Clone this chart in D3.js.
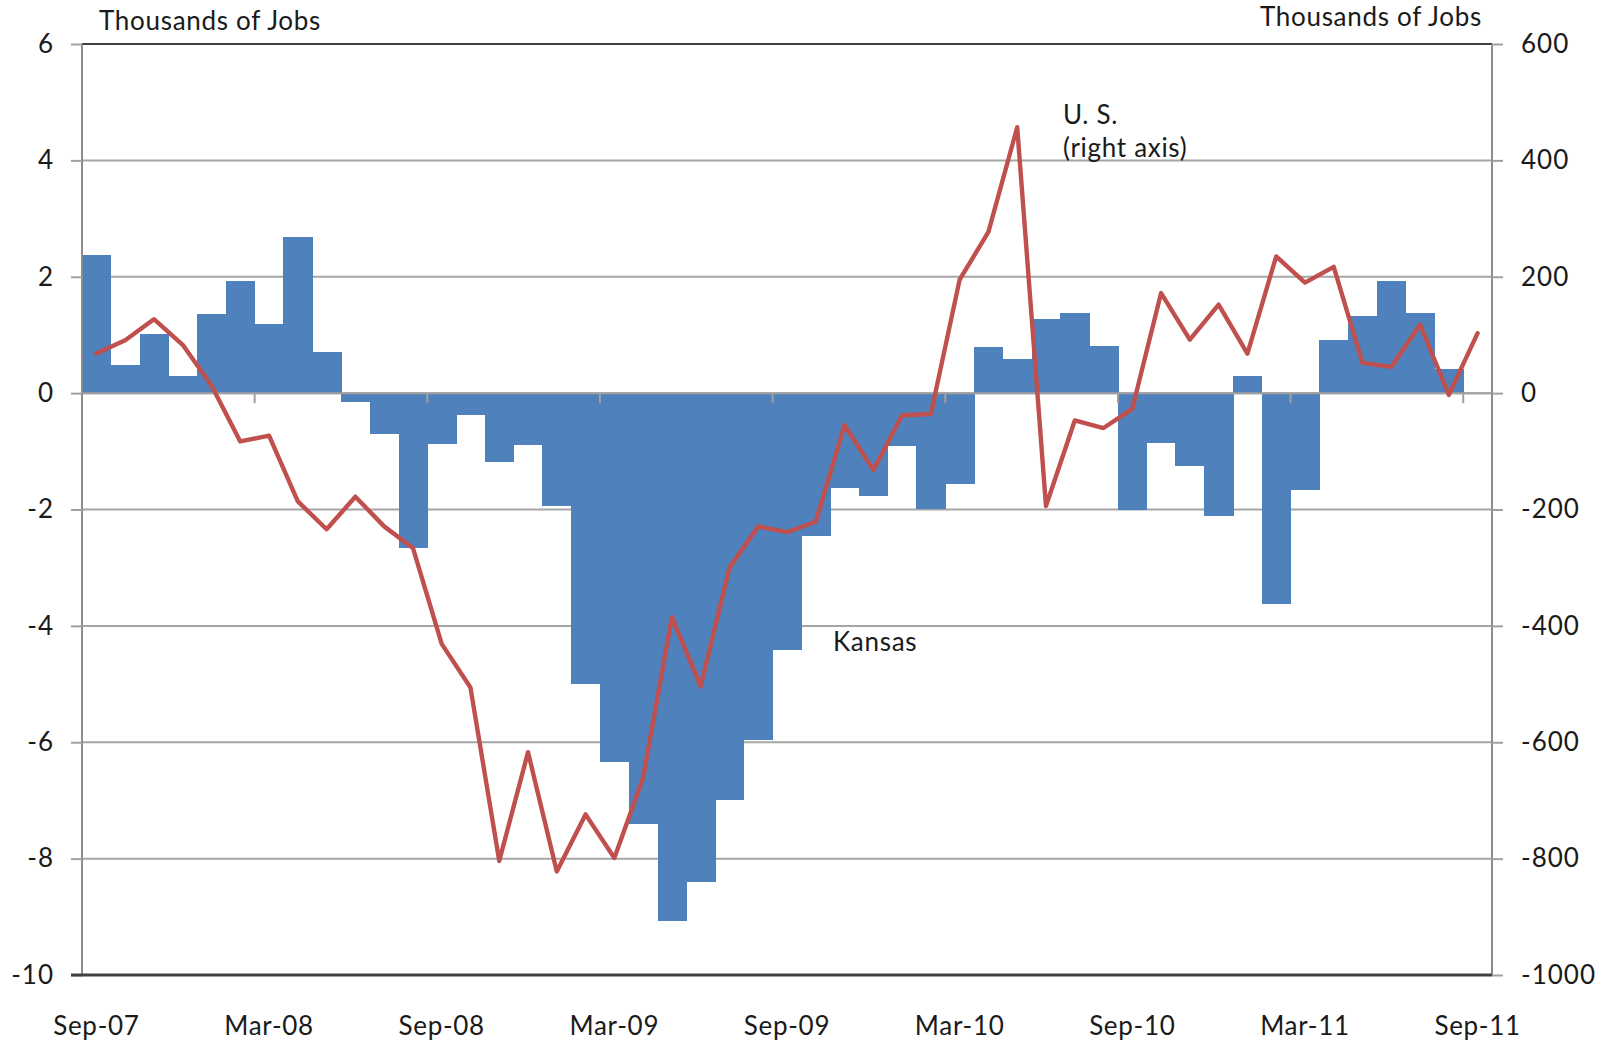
<!DOCTYPE html>
<html>
<head>
<meta charset="utf-8">
<script src="https://cdn.jsdelivr.net/npm/d3@7"></script>
<style>
  html, body { margin: 0; padding: 0; background: #ffffff; }
  svg { display: block; }
  text { font-family: Lato, "Open Sans", sans-serif; fill: #1a1a1a; }
</style>
</head>
<body>
<svg id="chart" width="1611" height="1044"></svg>
<script>
// ---- Data ----
const months = [
  "Sep-07","Oct-07","Nov-07","Dec-07","Jan-08","Feb-08","Mar-08","Apr-08","May-08","Jun-08","Jul-08","Aug-08",
  "Sep-08","Oct-08","Nov-08","Dec-08","Jan-09","Feb-09","Mar-09","Apr-09","May-09","Jun-09","Jul-09","Aug-09",
  "Sep-09","Oct-09","Nov-09","Dec-09","Jan-10","Feb-10","Mar-10","Apr-10","May-10","Jun-10","Jul-10","Aug-10",
  "Sep-10","Oct-10","Nov-10","Dec-10","Jan-11","Feb-11","Mar-11","Apr-11","May-11","Jun-11","Jul-11","Aug-11",
  "Sep-11"
];
// Kansas monthly change, thousands of jobs (left axis)
const kansas = [
  2.38, 0.49, 1.01, 0.29, 1.36, 1.93, 1.19, 2.69, 0.70, -0.15, -0.70, -2.67,
  -0.87, -0.37, -1.18, -0.89, -1.94, -5.00, -6.34, -7.40, -9.08, -8.40, -6.99, -5.96,
  -4.42, -2.45, -1.63, -1.77, -0.91, -1.99, -1.56, 0.80, 0.59, 1.28, 1.38, 0.81,
  -2.00, -0.85, -1.26, -2.11, 0.29, -3.63, -1.66, 0.91, 1.32, 1.93, 1.38, 0.42,
  null
];
// U.S. monthly change, thousands of jobs (right axis)
const us = [
  68, 91, 127, 83, 13, -83, -73, -186, -234, -178, -229, -266,
  -431, -506, -804, -617, -822, -724, -799, -661, -385, -504, -300, -229,
  -239, -221, -55, -132, -38, -36, 195, 277, 457, -194, -47, -60,
  -27, 172, 92, 152, 68, 235, 190, 217, 52, 45, 118, -3,
  103
];
const leftTicks = [-10, -8, -6, -4, -2, 0, 2, 4, 6];
const rightTicks = [-1000, -800, -600, -400, -200, 0, 200, 400, 600];
const xTickLabels = ["Sep-07","Mar-08","Sep-08","Mar-09","Sep-09","Mar-10","Sep-10","Mar-11","Sep-11"];

// ---- Layout ----
const L = 82, R = 1492, T = 44, B = 975;
const FONT = "Lato, 'Open Sans', sans-serif";
const svg = d3.select("#chart");

const x = d3.scaleBand().domain(months).range([L, R]).paddingInner(0).paddingOuter(0);
const yL = d3.scaleLinear().domain([-10, 6]).range([B, T]);
const yR = d3.scaleLinear().domain([-1000, 600]).range([B, T]);

// gridlines
const gridVals = leftTicks.filter(v => v > -10 && v < 6);
svg.append("g").selectAll("line").data(gridVals).join("line")
  .attr("x1", L).attr("x2", R)
  .attr("y1", d => yL(d)).attr("y2", d => yL(d))
  .attr("stroke", "#a6a6a6").attr("stroke-width", 2);

// bars
const kdata = months.map((m, i) => ({ m, v: kansas[i] })).filter(d => d.v !== null);
svg.append("g").attr("shape-rendering", "crispEdges").selectAll("rect").data(kdata).join("rect")
  .attr("x", d => x(d.m))
  .attr("width", x.bandwidth() + 0.6)
  .attr("y", d => yL(Math.max(0, d.v)))
  .attr("height", d => Math.abs(yL(d.v) - yL(0)))
  .attr("fill", "#4f81bd");

// zero line (category axis) and its tick marks at every 6th category boundary
svg.append("line")
  .attr("x1", L).attr("x2", R).attr("y1", yL(0)).attr("y2", yL(0))
  .attr("stroke", "#a0a0a0").attr("stroke-width", 2);
const tickMonths = months.filter((m, i) => i > 0 && i % 6 === 0);
svg.append("g").selectAll("line").data(tickMonths).join("line")
  .attr("x1", d => x(d)).attr("x2", d => x(d))
  .attr("y1", yL(0)).attr("y2", yL(0) + 10)
  .attr("stroke", "#a0a0a0").attr("stroke-width", 2);

// top frame line
svg.append("line").attr("x1", L).attr("x2", R).attr("y1", T).attr("y2", T)
  .attr("stroke", "#404040").attr("stroke-width", 2.2);

// left axis
const gL = svg.append("g").attr("transform", `translate(${L},0)`)
  .call(d3.axisLeft(yL).tickValues(leftTicks).tickSize(11).tickPadding(17).tickFormat(d => String(d)));
gL.select(".domain").attr("stroke", "#8c8c8c").attr("stroke-width", 2).attr("d", `M-0,${T}V${B}`);
gL.selectAll(".tick line").attr("stroke", "#a0a0a0").attr("stroke-width", 2);
gL.selectAll(".tick text").attr("font-size", 26).attr("fill", "#1a1a1a")
  .style("font-family", FONT).style("letter-spacing", "1px");

// right axis
const gR = svg.append("g").attr("transform", `translate(${R},0)`)
  .call(d3.axisRight(yR).tickValues(rightTicks).tickSize(11).tickPadding(18).tickFormat(d => String(d)));
gR.select(".domain").attr("stroke", "#8c8c8c").attr("stroke-width", 2).attr("d", `M0,${T}V${B}`);
gR.selectAll(".tick line").attr("stroke", "#a0a0a0").attr("stroke-width", 2);
gR.selectAll(".tick text").attr("font-size", 26).attr("fill", "#1a1a1a")
  .style("font-family", FONT).style("letter-spacing", "1px");

// bottom frame line
svg.append("line").attr("x1", L - 11).attr("x2", R).attr("y1", B).attr("y2", B)
  .attr("stroke", "#404040").attr("stroke-width", 3);

// bottom labels
const gB = svg.append("g").attr("transform", `translate(0,${B})`)
  .call(d3.axisBottom(x).tickValues(xTickLabels).tickSize(0).tickPadding(42));
gB.select(".domain").remove();
gB.selectAll(".tick text").attr("font-size", 26).attr("fill", "#1a1a1a")
  .style("font-family", FONT).style("letter-spacing", "0.7px");

// US line
const line = d3.line().x((d, i) => x(months[i]) + x.bandwidth() / 2).y(d => yR(d));
svg.append("path").datum(us).attr("d", line)
  .attr("fill", "none").attr("stroke", "#c0504d").attr("stroke-width", 4.4)
  .attr("stroke-linejoin", "round").attr("stroke-linecap", "round");

// titles & annotations
const ann = (xx, yy, t, anchor) => svg.append("text")
  .attr("x", xx).attr("y", yy).attr("font-size", 26)
  .attr("text-anchor", anchor || "start")
  .style("letter-spacing", "0.7px").text(t);
ann(99, 30, "Thousands of Jobs");
ann(1482, 26, "Thousands of Jobs", "end");
ann(1063, 124, "U. S.");
ann(1063, 157, "(right axis)");
ann(833, 651, "Kansas");
</script>
</body>
</html>
